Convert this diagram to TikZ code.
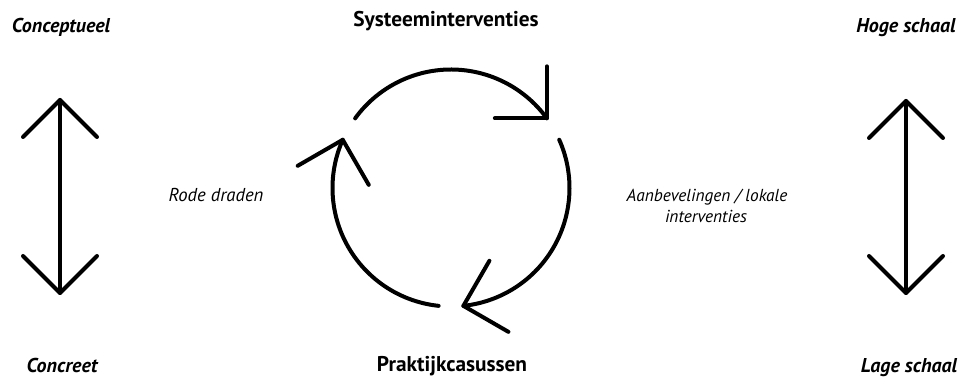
\documentclass[tikz,border=0pt]{standalone}
\usepackage{fontspec}
\setmainfont{PT Sans}
\begin{document}
\begin{tikzpicture}[x=0.75pt,y=0.75pt,
  stroke/.style={line width=3pt, line cap=round, line join=round},
  corner/.style={font=\bfseries\itshape\fontsize{15}{17}\selectfont, inner sep=0, anchor=base},
  ttl/.style={font=\bfseries\fontsize{16}{18}\selectfont, inner sep=0, anchor=base},
  side/.style={font=\itshape\fontsize{13}{15.75}\selectfont, inner sep=0, anchor=base}]
\useasboundingbox (0,0) rectangle (964,378);
% texts
\node[corner] (conc) at (61,345) {Conceptueel};
\node[corner] (concr) at (62,5) {Concreet};
\node[corner] (hoog) at (906,345) {Hoge schaal};
\node[corner] (laag) at (909,5) {Lage schaal};
\node[ttl] (sys) at (446,351) {Systeeminterventies};
\node[ttl] (prak) at (452,6) {Praktijkcasussen};
\node[side, font=\itshape\fontsize{14}{16}\selectfont] (rode) at (216,176) {Rode draden};
\node[side] (aanb) at (707,176) {Aanbevelingen / lokale};
\node[side] (intv) at (706,155) {interventies};
% left double arrow
\coordinate (lt) at (60,278);
\coordinate (lb) at (60,85);
\draw[stroke] (lt) -- (lb);
\draw[stroke] (23,241) -- (lt) -- (97,241);
\draw[stroke] (23,122) -- (lb) -- (97,122);
% right double arrow
\coordinate (rt) at (906,277);
\coordinate (rb) at (906,85);
\draw[stroke] (rt) -- (rb);
\draw[stroke] (869,240) -- (rt) -- (943,240);
\draw[stroke] (869,122) -- (rb) -- (943,122);
% cycle
\coordinate (c) at (451,190);
\def\R{118.5}
\draw[stroke] ([shift={(144:\R)}]c) arc[start angle=144, end angle=36, radius=\R] coordinate (t1);
\draw[stroke] ([shift={(90:52)}]t1) -- (t1) -- ([shift={(180:52)}]t1);
\draw[stroke] ([shift={(24:\R)}]c) arc[start angle=24, end angle=-84, radius=\R] coordinate (t2);
\draw[stroke] ([shift={(-30:52)}]t2) -- (t2) -- ([shift={(60:52)}]t2);
\draw[stroke] ([shift={(-96:\R)}]c) arc[start angle=-96, end angle=-204, radius=\R] coordinate (t3);
\draw[stroke] ([shift={(210:52)}]t3) -- (t3) -- ([shift={(300:52)}]t3);
\end{tikzpicture}
\end{document}
